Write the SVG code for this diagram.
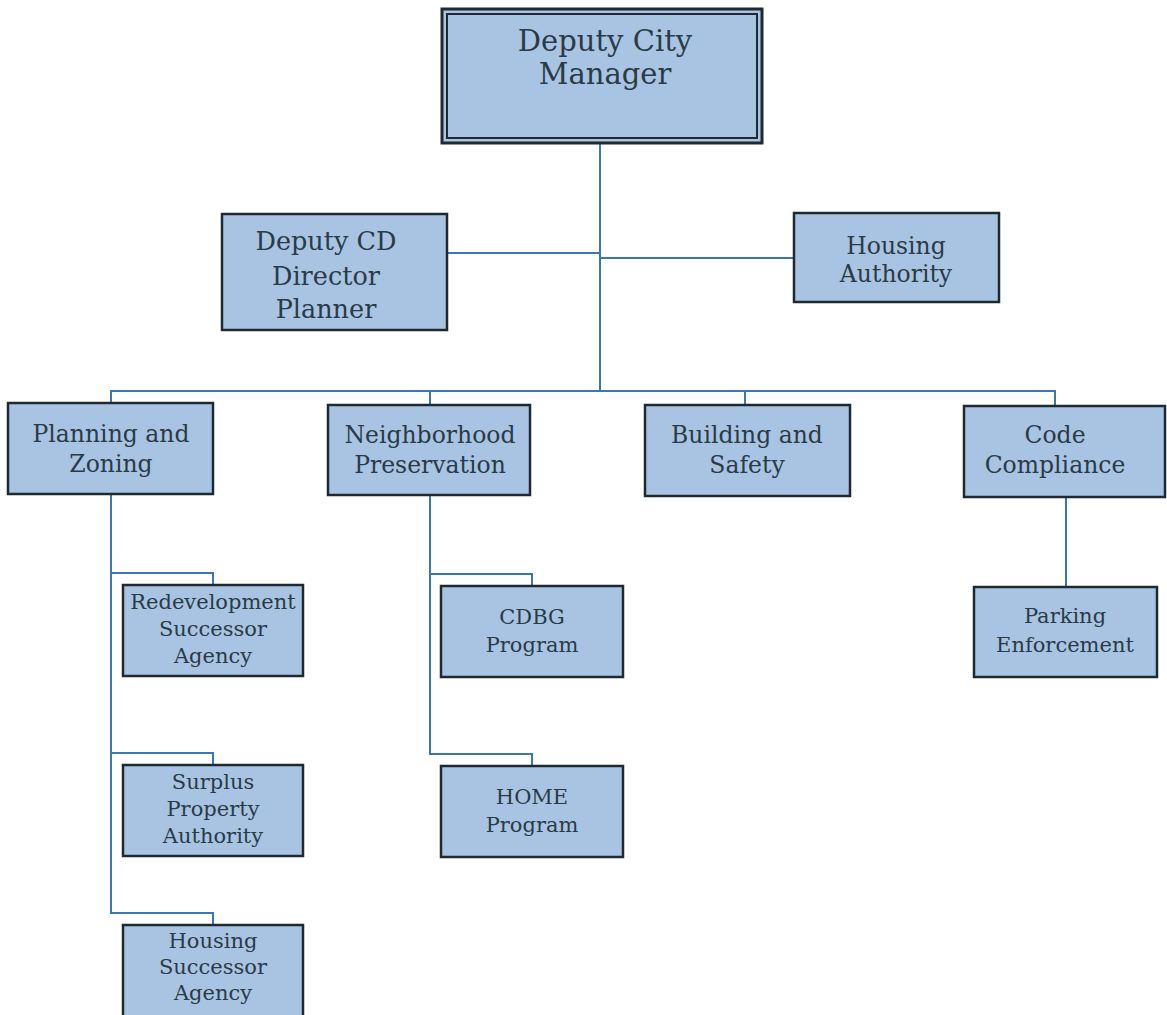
<svg xmlns="http://www.w3.org/2000/svg" width="1167" height="1015" viewBox="0 0 1167 1015">
  <style>
    .box { fill: #a9c4e3; stroke: #1f2a30; stroke-width: 2.5; }
    .lbl { font-family: "DejaVu Serif", "Liberation Serif", serif; fill: #2a3b48; text-anchor: middle; }
    .l2 { font-size: 23.5px; }
    .l3 { font-size: 21px; }
    .conn { fill: none; stroke: #3a78b2; stroke-width: 2; }
  </style>
  <rect width="1167" height="1015" fill="#ffffff"/>

  <!-- connectors -->
  <g id="connectors" class="conn">
    <path d="M600,143 V390"/>
    <path d="M447,253 H600"/>
    <path d="M600,258 H794"/>
    <path d="M111,403 V391 H1055 V406"/>
    <path d="M430,391 V405"/>
    <path d="M745,391 V405"/>
    <path d="M111,494 V913 H213 V925"/>
    <path d="M111,573 H213 V585"/>
    <path d="M111,753 H213 V765"/>
    <path d="M430,495 V754 H532 V766"/>
    <path d="M430,574 H532 V586"/>
    <path d="M1066,497 V587"/>
  </g>

  <!-- top manager box with double border -->
  <g id="deputy-city-manager">
    <rect x="442" y="9" width="320" height="134" fill="#a9c4e3" stroke="#1f2a30" stroke-width="3"/>
    <rect x="447" y="14" width="310" height="124" fill="none" stroke="#1f2a30" stroke-width="2"/>
    <text class="lbl" font-size="29" x="605" y="51">Deputy City</text>
    <text class="lbl" font-size="29" x="605" y="84">Manager</text>
  </g>

  <g id="deputy-cd-director">
    <rect class="box" x="222" y="214" width="225" height="116"/>
    <text class="lbl" font-size="25.5" x="326" y="250">Deputy CD</text>
    <text class="lbl" font-size="25.5" x="326" y="285">Director</text>
    <text class="lbl" font-size="25.5" x="326" y="318">Planner</text>
  </g>

  <g id="housing-authority">
    <rect class="box" x="794" y="213" width="205" height="89"/>
    <text class="lbl" font-size="23.5" x="896" y="254">Housing</text>
    <text class="lbl" font-size="23.5" x="896" y="282">Authority</text>
  </g>

  <g id="planning-zoning">
    <rect class="box" x="8" y="403" width="205" height="91"/>
    <text class="lbl l2" x="111" y="442">Planning and</text>
    <text class="lbl l2" x="111" y="472">Zoning</text>
  </g>

  <g id="neighborhood-preservation">
    <rect class="box" x="328" y="405" width="202" height="90"/>
    <text class="lbl l2" x="430" y="443">Neighborhood</text>
    <text class="lbl l2" x="430" y="473">Preservation</text>
  </g>

  <g id="building-safety">
    <rect class="box" x="645" y="405" width="205" height="91"/>
    <text class="lbl l2" x="747" y="443">Building and</text>
    <text class="lbl l2" x="747" y="473">Safety</text>
  </g>

  <g id="code-compliance">
    <rect class="box" x="964" y="406" width="201" height="91"/>
    <text class="lbl l2" x="1055" y="443">Code</text>
    <text class="lbl l2" x="1055" y="473">Compliance</text>
  </g>

  <g id="redevelopment-successor">
    <rect class="box" x="123" y="585" width="180" height="91"/>
    <text class="lbl l3" x="213" y="609">Redevelopment</text>
    <text class="lbl l3" x="213" y="636">Successor</text>
    <text class="lbl l3" x="213" y="663">Agency</text>
  </g>

  <g id="surplus-property">
    <rect class="box" x="123" y="765" width="180" height="91"/>
    <text class="lbl l3" x="213" y="789">Surplus</text>
    <text class="lbl l3" x="213" y="816">Property</text>
    <text class="lbl l3" x="213" y="843">Authority</text>
  </g>

  <g id="housing-successor">
    <rect class="box" x="123" y="925" width="180" height="100"/>
    <text class="lbl l3" x="213" y="948">Housing</text>
    <text class="lbl l3" x="213" y="974">Successor</text>
    <text class="lbl l3" x="213" y="1000">Agency</text>
  </g>

  <g id="cdbg-program">
    <rect class="box" x="441" y="586" width="182" height="91"/>
    <text class="lbl l3" x="532" y="624">CDBG</text>
    <text class="lbl l3" x="532" y="652">Program</text>
  </g>

  <g id="home-program">
    <rect class="box" x="441" y="766" width="182" height="91"/>
    <text class="lbl l3" x="532" y="804">HOME</text>
    <text class="lbl l3" x="532" y="832">Program</text>
  </g>

  <g id="parking-enforcement">
    <rect class="box" x="974" y="587" width="183" height="90"/>
    <text class="lbl l3" x="1065" y="623">Parking</text>
    <text class="lbl l3" x="1065" y="652">Enforcement</text>
  </g>
</svg>
